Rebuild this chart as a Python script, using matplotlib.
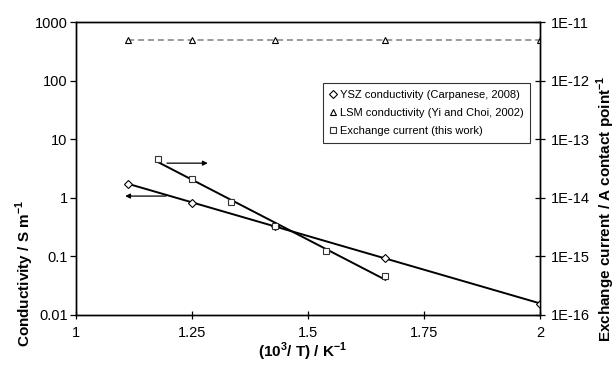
import numpy as np
import matplotlib
matplotlib.use("Agg")
import matplotlib.pyplot as plt
from matplotlib.ticker import FixedLocator, NullLocator

plt.rcParams['font.family'] = ['Liberation Sans', 'DejaVu Sans']
plt.rcParams['mathtext.fontset'] = 'custom'
plt.rcParams['mathtext.rm'] = 'Liberation Sans'
plt.rcParams['mathtext.bf'] = 'Liberation Sans:bold'

# ---- data ----
ysz_x = [1.111, 1.250, 1.429, 1.667, 2.000]
ysz_y = [1.72, 0.83, 0.33, 0.094, 0.0155]

lsm_x = [1.111, 1.250, 1.429, 1.667, 2.000]
lsm_y = [490, 490, 490, 490, 490]

exc_x = [1.177, 1.250, 1.333, 1.429, 1.538, 1.667]
exc_y = [4.6e-14, 2.1e-14, 8.4e-15, 3.3e-15, 1.26e-15, 4.6e-16]

xticks = [1, 1.25, 1.5, 1.75, 2]
xticklabels = ['1', '1.25', '1.5', '1.75', '2']
yticks_left = [0.01, 0.1, 1, 10, 100, 1000]
yticklabels_left = ['0.01', '0.1', '1', '10', '100', '1000']
yticks_right = [1e-16, 1e-15, 1e-14, 1e-13, 1e-12, 1e-11]
yticklabels_right = ['1E-16', '1E-15', '1E-14', '1E-13', '1E-12', '1E-11']

fig = plt.figure(figsize=(6.16, 3.68), dpi=100)
ax = fig.add_axes([76/616, 1-315/368, 464/616, 293/368])
ax2 = ax.twinx()

# fitted Arrhenius-type lines (least squares in log space)
def fit_line(xs, ys):
    p = np.polyfit(np.array(xs), np.log10(np.array(ys)), 1)
    xx = np.array([min(xs), max(xs)])
    return xx, 10 ** np.polyval(p, xx)

fx, fy = fit_line(ysz_x, ysz_y)
ax.plot(fx, fy, color='black', lw=1.4, zorder=2)
ex, ey = fit_line(exc_x, exc_y)
ax2.plot(ex, ey, color='black', lw=1.4, zorder=2)

ax.plot(lsm_x, lsm_y, color='#808080', lw=1.1, ls=(0, (4, 2.5)), zorder=2)

h1, = ax.plot(ysz_x, ysz_y, ls='none', marker='D', ms=4.5, mfc='white', mec='black', mew=0.8, zorder=3,
              label='YSZ conductivity (Carpanese, 2008)')
h2, = ax.plot(lsm_x, lsm_y, ls='none', marker='^', ms=4.5, mfc='white', mec='black', mew=0.8, zorder=3,
              label='LSM conductivity (Yi and Choi, 2002)')
h3, = ax2.plot(exc_x, exc_y, ls='none', marker='s', ms=5, mfc='white', mec='#333333', mew=0.8, zorder=3,
               label='Exchange current (this work)')

# arrows indicating axes
ax.annotate('', xy=(1.10, 1.07), xytext=(1.20, 1.07),
            arrowprops=dict(arrowstyle='-|>', color='black', lw=0.9, mutation_scale=7))
ax2.annotate('', xy=(1.29, 3.9e-14), xytext=(1.19, 3.9e-14),
             arrowprops=dict(arrowstyle='-|>', color='black', lw=0.9, mutation_scale=7))

ax.set_xlim(1, 2)
ax.set_yscale('log')
ax.set_ylim(0.01, 1000)
ax2.set_yscale('log')
ax2.set_ylim(1e-16, 1e-11)

ax.xaxis.set_major_locator(FixedLocator(xticks))
ax.set_xticklabels(xticklabels)
ax.yaxis.set_major_locator(FixedLocator(yticks_left))
ax.yaxis.set_minor_locator(NullLocator())
ax.set_yticklabels(yticklabels_left)
ax2.yaxis.set_major_locator(FixedLocator(yticks_right))
ax2.yaxis.set_minor_locator(NullLocator())
ax2.set_yticklabels(yticklabels_right)

ax.tick_params(axis='x', direction='inout', length=6, width=0.9, labelsize=10.5, pad=5)
ax.tick_params(axis='y', direction='out', length=4, width=0.9, labelsize=10.5, pad=2)
ax2.tick_params(axis='y', direction='inout', length=7, width=0.9, labelsize=10.5, pad=4)
for a in (ax, ax2):
    for s in a.spines.values():
        s.set_linewidth(1.0)

leg = ax.legend(handles=[h1, h2, h3], loc='upper right', bbox_to_anchor=((530-76)/464, (315-83)/293),
                fontsize=8, frameon=True, fancybox=False, edgecolor='black', handlelength=0.6,
                handletextpad=0.3, borderpad=0.6, labelspacing=0.75, borderaxespad=0)
leg.get_frame().set_linewidth(0.8)
leg.set_zorder(5)

fig.text(25/616, 1-347/368, r'Conductivity / S m$^{\mathbf{-1}}$', rotation=90, ha='center', va='bottom',
         fontsize=11, fontweight='bold')
fig.text(606/616, 1-342/368, r'Exchange current / A contact point$^{\mathbf{-1}}$', rotation=90,
         ha='center', va='bottom', fontsize=11, fontweight='bold')
fig.text(303/616, 1-363/368, r'(10$^{\mathbf{3}}$/ T) / K$^{\mathbf{-1}}$', ha='center', va='bottom',
         fontsize=11, fontweight='bold')

fig.savefig('out.png', dpi=100)
